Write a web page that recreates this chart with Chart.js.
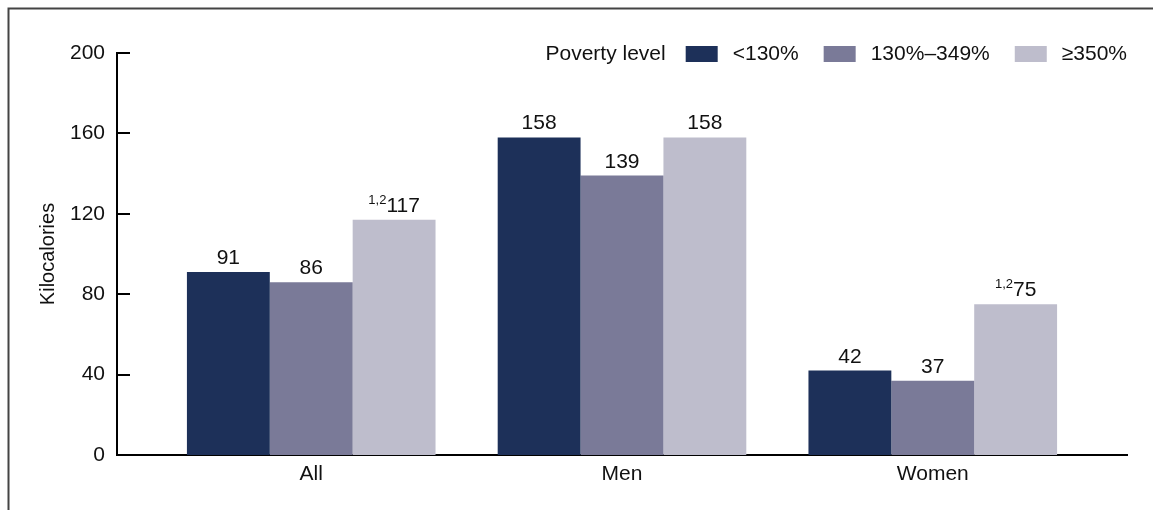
<!DOCTYPE html>
<html><head><meta charset="utf-8">
<script src="https://cdn.jsdelivr.net/npm/chart.js@4.4.0/dist/chart.umd.min.js"></script>
<style>html,body{margin:0;padding:0;background:#fff;} #wrap{width:1153px;height:510px;position:relative;}</style>
</head><body><div id="wrap"><canvas id="c" width="1153" height="510"></canvas></div>
<script>
const categories = ['All', 'Men', 'Women'];
const seriesNames = ['<130%', '130%–349%', '≥350%'];
const below130 = [91, 158, 42];
const from130to349 = [86, 139, 37];
const atLeast350 = [117, 158, 75];
const below130Notes = ['', '', ''];
const from130to349Notes = ['', '', ''];
const atLeast350Notes = ['1,2', '', '1,2'];
const yTickValues = [0, 40, 80, 120, 160, 200];
const legendTitle = 'Poverty level';
const yTitle = 'Kilocalories';

const colors = ['#1d3059', '#7a7a98', '#bebdcc'];
const FONT = '"Liberation Sans", Arial, sans-serif';
const TXT = '#111';
Chart.defaults.font.family = FONT;

const seriesValues = [below130, from130to349, atLeast350];
const seriesNotes = [below130Notes, from130to349Notes, atLeast350Notes];

const framePlugin = {
  id: 'frame',
  beforeDraw(chart) {
    const ctx = chart.ctx;
    ctx.save();
    ctx.strokeStyle = '#444';
    ctx.lineWidth = 2;
    ctx.beginPath();
    ctx.moveTo(8.5, 510);
    ctx.lineTo(8.5, 8.5);
    ctx.lineTo(1153, 8.5);
    ctx.stroke();
    ctx.restore();
  }
};

const inwardTicks = {
  id: 'inwardTicks',
  afterDraw(chart) {
    const ctx = chart.ctx, y = chart.scales.y, left = chart.chartArea.left;
    ctx.save();
    ctx.strokeStyle = '#000';
    ctx.lineWidth = 2;
    y.ticks.forEach(t => {
      if (t.value <= 0) return;
      const py = Math.round(y.getPixelForValue(t.value));
      ctx.beginPath();
      ctx.moveTo(left, py);
      ctx.lineTo(left + 13, py);
      ctx.stroke();
    });
    ctx.restore();
  }
};

const valueLabels = {
  id: 'valueLabels',
  afterDatasetsDraw(chart) {
    const ctx = chart.ctx;
    ctx.save();
    ctx.fillStyle = TXT;
    ctx.textBaseline = 'alphabetic';
    ctx.textAlign = 'left';
    chart.data.datasets.forEach((ds, di) => {
      const meta = chart.getDatasetMeta(di);
      meta.data.forEach((bar, i) => {
        const num = String(seriesValues[di][i]);
        const note = seriesNotes[di][i];
        ctx.font = '21px ' + FONT;
        const wn = ctx.measureText(num).width;
        ctx.font = '13px ' + FONT;
        const ws = note ? ctx.measureText(note).width : 0;
        const start = bar.x - (wn + ws) / 2;
        const base = bar.y - 8;
        if (note) ctx.fillText(note, start, base - 8);
        ctx.font = '21px ' + FONT;
        ctx.fillText(num, start + ws, base);
      });
    });
    ctx.restore();
  }
};

const customLegend = {
  id: 'customLegend',
  afterDraw(chart) {
    const ctx = chart.ctx;
    ctx.save();
    ctx.font = '21px ' + FONT;
    ctx.textBaseline = 'middle';
    ctx.textAlign = 'left';
    const boxW = 32, boxH = 16, gapTitle = 20, gapBox = 15, gapItem = 25;
    const widths = seriesNames.map(s => ctx.measureText(s).width);
    let total = ctx.measureText(legendTitle).width + gapTitle;
    widths.forEach((w, i) => { total += boxW + gapBox + w + (i < widths.length - 1 ? gapItem : 0); });
    let x = chart.chartArea.right - total;
    const cy = 54.5;
    ctx.fillStyle = TXT;
    ctx.fillText(legendTitle, x, cy);
    x += ctx.measureText(legendTitle).width + gapTitle;
    seriesNames.forEach((s, i) => {
      ctx.fillStyle = chart.data.datasets[i].backgroundColor;
      ctx.fillRect(x, 46, boxW, boxH);
      x += boxW + gapBox;
      ctx.fillStyle = TXT;
      ctx.fillText(s, x, cy);
      x += widths[i] + gapItem;
    });
    ctx.restore();
  }
};

new Chart(document.getElementById('c'), {
  type: 'bar',
  data: {
    datasets: seriesNames.map((name, di) => ({
      label: name,
      data: seriesValues[di].map((v, i) => ({ x: i, y: v })),
      backgroundColor: colors[di],
      borderWidth: 0
    }))
  },
  options: {
    responsive: false,
    animation: false,
    devicePixelRatio: 1,
    layout: { padding: { top: 53, right: 26, bottom: 0, left: 0 } },
    plugins: { legend: { display: false }, tooltip: { enabled: false } },
    datasets: { bar: { categoryPercentage: 0.8, barPercentage: 1.0 } },
    scales: {
      x: {
        type: 'linear', min: -0.625, max: 2.625, z: 1, offset: false, bounds: 'data', grace: 0,
        afterBuildTicks: s => { s.ticks = categories.map((c, i) => ({ value: i })); },
        grid: { display: false, drawTicks: false, offset: false },
        border: { display: true, color: '#000', width: 2 },
        ticks: { callback: v => categories[v] ?? '', font: { size: 21 }, color: TXT, padding: 7, maxRotation: 0, autoSkip: false },
        afterFit: s => { s.height = 55; }
      },
      y: {
        min: 0, max: 200, z: 1,
        afterBuildTicks: s => { s.ticks = yTickValues.map(v => ({ value: v })); },
        grid: { display: false, drawTicks: false },
        border: { display: true, color: '#000', width: 2 },
        ticks: { font: { size: 21 }, color: TXT, padding: 12 },
        title: { display: true, text: yTitle, font: { size: 20 }, color: TXT, padding: { top: 36, bottom: 0 } },
        afterFit: s => { s.width = 117; }
      }
    }
  },
  plugins: [framePlugin, inwardTicks, valueLabels, customLegend]
});
</script>
</body></html>
